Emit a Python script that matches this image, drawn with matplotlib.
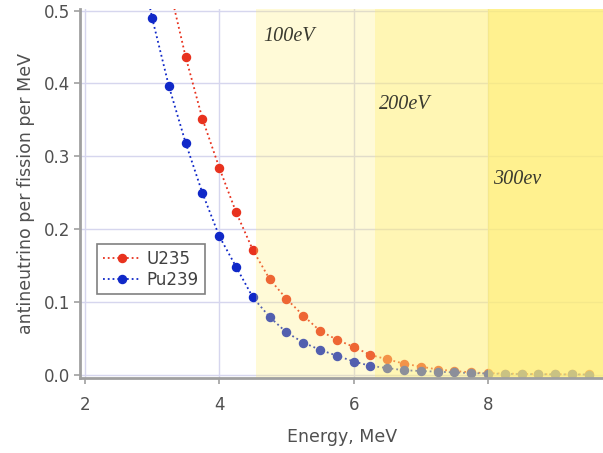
import matplotlib
matplotlib.use("Agg")
import matplotlib.pyplot as plt
import numpy as np

# antineutrino spectra
u235_energy = [3.25, 3.5, 3.75, 4.0, 4.25, 4.5, 4.75, 5.0, 5.25, 5.5, 5.75, 6.0, 6.25,
               6.5, 6.75, 7.0, 7.25, 7.5, 7.75, 8.0, 8.25, 8.5, 8.75, 9.0, 9.25, 9.5]
u235_flux = [0.535, 0.436, 0.351, 0.284, 0.223, 0.171, 0.131, 0.104, 0.081, 0.060, 0.048,
             0.038, 0.027, 0.021, 0.015, 0.011, 0.007, 0.005, 0.003, 0.002, 0.0015,
             0.001, 0.0007, 0.0005, 0.0003, 0.0002]

pu239_energy = [2.75, 3.0, 3.25, 3.5, 3.75, 4.0, 4.25, 4.5, 4.75, 5.0, 5.25, 5.5, 5.75,
                6.0, 6.25, 6.5, 6.75, 7.0, 7.25, 7.5, 7.75, 8.0, 8.25, 8.5, 8.75, 9.0,
                9.25, 9.5]
pu239_flux = [0.60, 0.490, 0.396, 0.318, 0.249, 0.190, 0.148, 0.106, 0.079, 0.058, 0.044,
              0.034, 0.026, 0.018, 0.012, 0.009, 0.006, 0.005, 0.004, 0.003, 0.002,
              0.0015, 0.001, 0.0007, 0.0005, 0.0003, 0.0002, 0.0001]

# shaded threshold regions
band_edges = [4.54, 6.31, 8.0, 9.75]
band_alpha = [0.28, 0.52, 0.78]
band_labels = ["100eV", "200eV", "300ev"]
label_pos = [(4.65, 0.464), (6.37, 0.371), (8.08, 0.268)]

fig = plt.figure(figsize=(6.03, 4.53), dpi=100)
ax = fig.add_axes([0.133, 0.165, 0.867, 0.815])

ax.plot(u235_energy, u235_flux, linestyle=":", linewidth=1.3, color="#e8321e",
        marker="o", markersize=5.8, label="U235", zorder=3)
ax.plot(pu239_energy, pu239_flux, linestyle=":", linewidth=1.3, color="#1028c8",
        marker="o", markersize=5.8, label="Pu239", zorder=3)

# yellow bands sit on top of the curves so the points fade like in the original
for i in range(3):
    ax.axvspan(band_edges[i], band_edges[i + 1], color="#ffee70",
               alpha=band_alpha[i], lw=0, zorder=4)
    ax.text(label_pos[i][0], label_pos[i][1], band_labels[i], family="Liberation Serif",
            style="italic", fontsize=14.5, color="#3a3a30", va="center", zorder=5)

ax.set_xlim(1.93, 9.71)
ax.set_ylim(-0.005, 0.502)
ax.set_xticks([2, 4, 6, 8])
ax.set_yticks([0.0, 0.1, 0.2, 0.3, 0.4, 0.5])
ax.set_yticklabels(["0.0", "0.1", "0.2", "0.3", "0.4", "0.5"])
ax.grid(True, color="#d6d6ee", linewidth=1.0, zorder=0)
ax.set_axisbelow(True)

for s in ["top", "right"]:
    ax.spines[s].set_visible(False)
for s in ["left", "bottom"]:
    ax.spines[s].set_color("#a0a0a0")
    ax.spines[s].set_linewidth(2)
    ax.spines[s].set_zorder(6)

ax.tick_params(colors="#a0a0a0", labelcolor="#505050", labelsize=12, length=4, width=1.2)
ax.tick_params(axis="x", pad=9)
ax.set_xlabel("Energy, MeV", fontsize=12.5, color="#505050", labelpad=10)
ax.set_ylabel("antineutrino per fission per MeV", fontsize=12.5, color="#505050", labelpad=6)

leg = ax.legend(loc="upper left", bbox_to_anchor=(0.033, 0.363), borderaxespad=0,
                fontsize=12, fancybox=False, edgecolor="#808080", framealpha=1,
                handlelength=2.2, handletextpad=0.4, labelspacing=0.15, borderpad=0.35)
leg.get_frame().set_linewidth(1.2)
for t in leg.get_texts():
    t.set_color("#404040")
leg.set_zorder(7)

fig.savefig("out.png", dpi=100)
